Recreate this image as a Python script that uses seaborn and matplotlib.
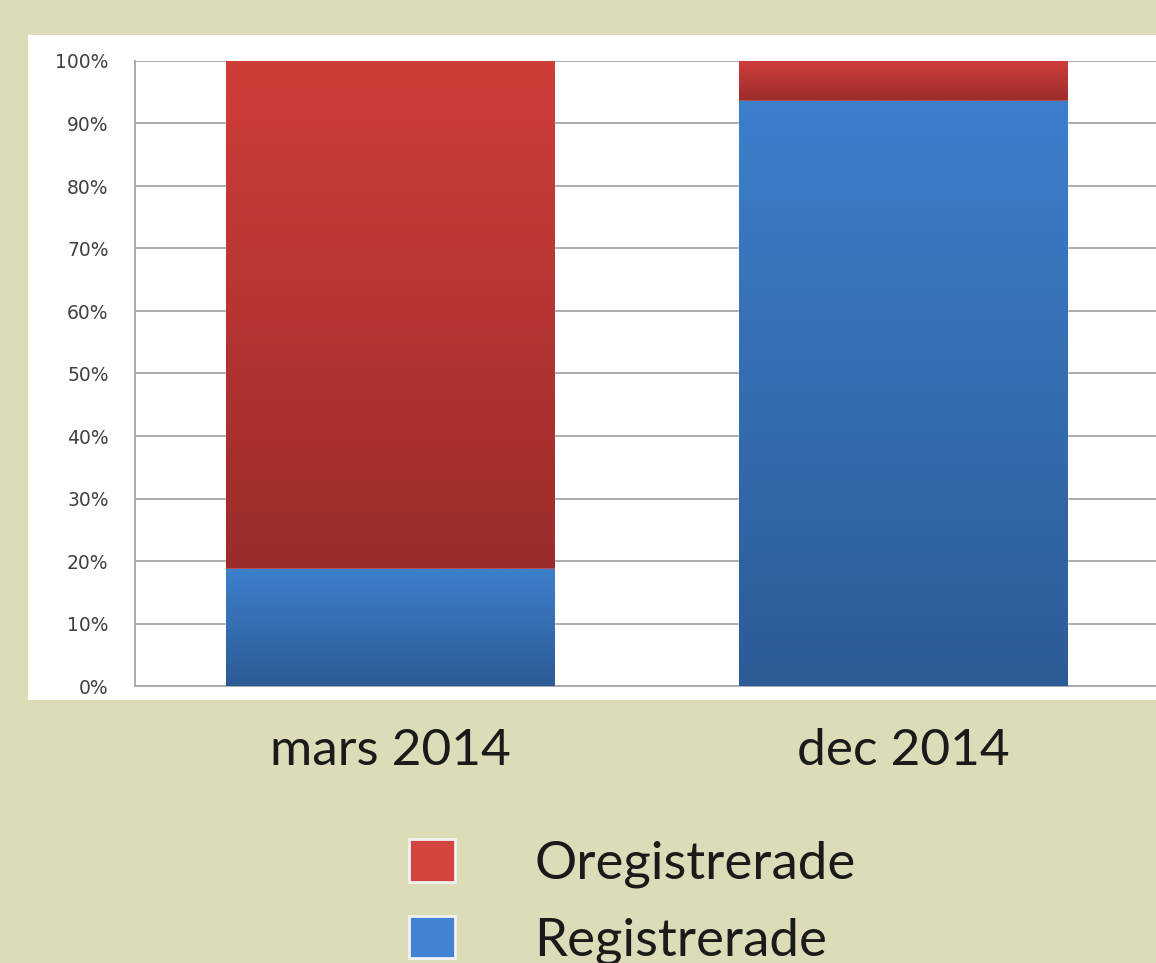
import numpy as np
import pandas as pd
import matplotlib.pyplot as plt
import seaborn as sns
from matplotlib.colors import LinearSegmentedColormap
from matplotlib.patches import Patch, Rectangle

# Data (percent of total)
periods = ['mars 2014', 'dec 2014']
registrerade = [18.7, 93.6]
oregistrerade = [81.3, 6.4]
series = ['Oregistrerade', 'Registrerade']
yticks = [0, 10, 20, 30, 40, 50, 60, 70, 80, 90, 100]

bg = '#DCDCB9'
red_top, red_bottom = '#CF3E39', '#9B2C2C'
blue_top, blue_bottom = '#3D7FCC', '#2D5B96'

sns.set_style('white')
plt.rcParams['font.family'] = ['Lato', 'DejaVu Sans']

fig = plt.figure(figsize=(11.56, 9.63), dpi=100, facecolor=bg)
W, H = 1156, 963

# white chart panel
fig.patches.append(Rectangle((28 / W, 1 - 700 / H), 1 - 28 / W, 665 / H,
                             transform=fig.transFigure, facecolor='white',
                             edgecolor='none', zorder=-10))

ax = fig.add_axes([135 / W, 1 - 686 / H, 1 - 135 / W, 625 / H])
ax.set_facecolor('white')

df = pd.DataFrame({'period': periods, 'reg': registrerade, 'oreg': oregistrerade})
df['total'] = df['reg'] + df['oreg']

sns.barplot(data=df, x='period', y='total', color=red_top, saturation=1,
            width=0.64, ax=ax, zorder=2)
n = len(ax.patches)
sns.barplot(data=df, x='period', y='reg', color=blue_top, saturation=1,
            width=0.64, ax=ax, zorder=3)
red_bars = ax.patches[:n]
blue_bars = ax.patches[n:]


def gradient(patch, top, bottom, y0, y1, z):
    x = patch.get_x()
    w = patch.get_width()
    cmap = LinearSegmentedColormap.from_list('g', [bottom, top])
    grad = np.linspace(0, 1, 256).reshape(-1, 1)
    im = ax.imshow(grad, cmap=cmap, extent=[x, x + w, y0, y1], origin='lower',
                   aspect='auto', zorder=z, interpolation='bilinear')
    im.set_clip_path(patch)


for i, p in enumerate(red_bars):
    gradient(p, red_top, red_bottom, registrerade[i], registrerade[i] + oregistrerade[i], 2.5)
for i, p in enumerate(blue_bars):
    gradient(p, blue_top, blue_bottom, 0, registrerade[i], 3.5)

ax.set_xlim(-0.497, 1.493)
ax.set_ylim(0, 100)
ax.set_yticks(yticks)
ax.set_yticklabels([f'{t}%' for t in yticks], fontsize=13.5, color='#404040',
                   family='DejaVu Sans')
ax.tick_params(axis='y', length=0, pad=19)
ax.tick_params(axis='x', length=0, pad=30, labelsize=37, labelcolor='#1a1a1a')
ax.set_xlabel('')
ax.set_ylabel('')
ax.set_axisbelow(True)
ax.grid(axis='y', color='#A6A6A6', lw=1.3)
for s in ['top', 'right']:
    ax.spines[s].set_visible(False)
for s in ['left', 'bottom']:
    ax.spines[s].set_color('#A6A6A6')
    ax.spines[s].set_linewidth(1.3)

handles = [Patch(facecolor='#D4443F', edgecolor='#F2F2F2', lw=2, label=series[0]),
           Patch(facecolor='#4283D3', edgecolor='#F2F2F2', lw=2, label=series[1])]
fig.legend(handles=handles, loc='upper left', bbox_to_anchor=(409 / W, 1 - 839 / H),
           frameon=False, fontsize=38, handlelength=0.87, handleheight=0.87,
           handletextpad=1.5, labelspacing=0.52, borderaxespad=0, borderpad=0,
           labelcolor='#1a1a1a')

fig.savefig('out.png', dpi=100, facecolor=bg)
